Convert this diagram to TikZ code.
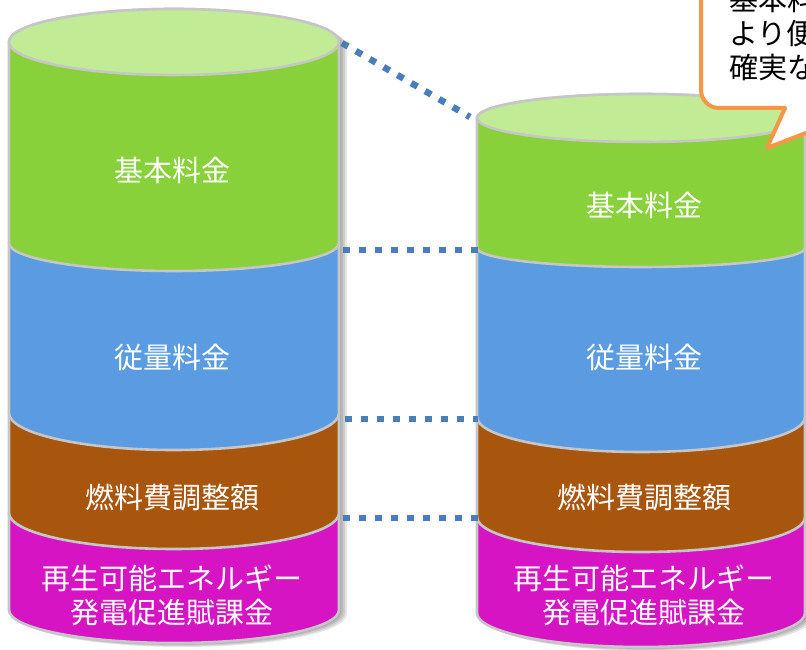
\documentclass[tikz,border=0pt]{standalone}
\usepackage{fontspec}
\newfontfamily\jp{Noto Sans CJK JP}
\definecolor{lgreen}{HTML}{88D13A}
\definecolor{capgreen}{HTML}{C2EB96}
\definecolor{lblue}{HTML}{5B9BE1}
\definecolor{lbrown}{HTML}{A8560E}
\definecolor{lmag}{HTML}{D614C3}
\definecolor{rimgray}{HTML}{C6C6C6}
\definecolor{dotblue}{HTML}{4A7EBB}
\definecolor{callorange}{HTML}{F79646}
\tikzset{
  rim/.style={draw=rimgray, line width=2.6pt, line join=round},
  dotline/.style={draw=dotblue, line width=6.5pt, dash pattern=on 7pt off 9pt},
  lab/.style={text=white, font=\jp\fontsize{29}{34}\selectfont, align=center, inner sep=0pt},
  calltext/.style={text=black, font=\jp\fontsize{29}{32}\selectfont, anchor=west, inner sep=0pt},
  callout/.style={draw=callorange, fill=white, line width=4pt, line join=round},
}
% layer: #1 cx, #2 rx, #3 Ytop, #4 rytop, #5 Ybot, #6 rybot, #7 colour
\newcommand\cyllayer[7]{%
  \path[rim, fill=#7] ({#1-#2},#3) -- ({#1-#2},#5)
    arc[start angle=180, end angle=360, x radius=#2pt, y radius=#6pt]
    -- ({#1+#2},#3)
    arc[start angle=0, end angle=180, x radius=#2pt, y radius=#4pt] -- cycle;}
% shadow: #1 cx, #2 rx, #3 Ytop, #4 rytop, #5 Ybot, #6 rybot
\newcommand\cylshadow[6]{%
  \foreach \s in {2,4,6,8}{%
  \fill[black, opacity=0.1, shift={(\s pt,-0.5*\s pt)}] ({#1-#2},#3) -- ({#1-#2},#5)
    arc[start angle=180, end angle=360, x radius=#2pt, y radius=#6pt]
    -- ({#1+#2},#3)
    arc[start angle=0, end angle=180, x radius=#2pt, y radius=#4pt] -- cycle;}}
\begin{document}
\begin{tikzpicture}[x=1pt, y=1pt]
\clip (0,0) rectangle (806,650);
\fill[white] (0,0) rectangle (806,650);

% ---------- left cylinder ----------
\cylshadow{174}{165}{608}{33}{40}{33}
\cyllayer{174}{165}{137}{36}{40}{33}{lmag}
\cyllayer{174}{165}{237}{37}{137}{36}{lbrown}
\cyllayer{174}{165}{407}{28}{237}{37}{lblue}
\cyllayer{174}{165}{608}{33}{407}{28}{lgreen}
\path[rim, fill=capgreen] (174,608) ellipse[x radius=165pt, y radius=33pt];

% ---------- right cylinder ----------
\cylshadow{641}{164}{532}{24}{37}{34}
\cyllayer{641}{164}{133}{35}{37}{34}{lmag}
\cyllayer{641}{164}{233}{35}{133}{35}{lbrown}
\cyllayer{641}{164}{402}{19}{233}{35}{lblue}
\cyllayer{641}{164}{532}{24}{402}{19}{lgreen}
\path[rim, fill=capgreen] (641,532) ellipse[x radius=164pt, y radius=24pt];

% ---------- labels ----------
\node[lab] (lbase) at (172,480) {基本料金};
\node[lab] (luse)  at (172,292) {従量料金};
\node[lab] (lfuel) at (172,153) {燃料費調整額};
\node[lab] (lren)  at (172,55)  {再生可能エネルギー\\発電促進賦課金};
\node[lab] (rbase) at (644,445) {基本料金};
\node[lab] (ruse)  at (644,292) {従量料金};
\node[lab] (rfuel) at (644,153) {燃料費調整額};
\node[lab] (rren)  at (644,55)  {再生可能エネルギー\\発電促進賦課金};

% ---------- dotted connectors ----------
\coordinate (a1) at (342,607);  \coordinate (b1) at (470,533);
\coordinate (a2) at (343,400);  \coordinate (b2) at (478,400);
\coordinate (a3) at (345,231);  \coordinate (b3) at (478,231);
\coordinate (a4) at (343,132);  \coordinate (b4) at (478,132);
\draw[dotline] (a1) -- (b1);
\draw[dotline] (a2) -- (b2);
\draw[dotline] (a3) -- (b3);
\draw[dotline] (a4) -- (b4);

% ---------- callout ----------
\path[callout] (701,720) -- (701,560) arc[start angle=180, end angle=270, radius=18pt]
  -- (785,542) -- (767,502) -- (871,542) -- (920,542) -- (920,720) -- cycle;
\node[calltext] (c1) at (729,651) {基本料};
\node[calltext] (c2) at (729,616) {より便};
\node[calltext] (c3) at (729,582) {確実な};
\end{tikzpicture}
\end{document}
